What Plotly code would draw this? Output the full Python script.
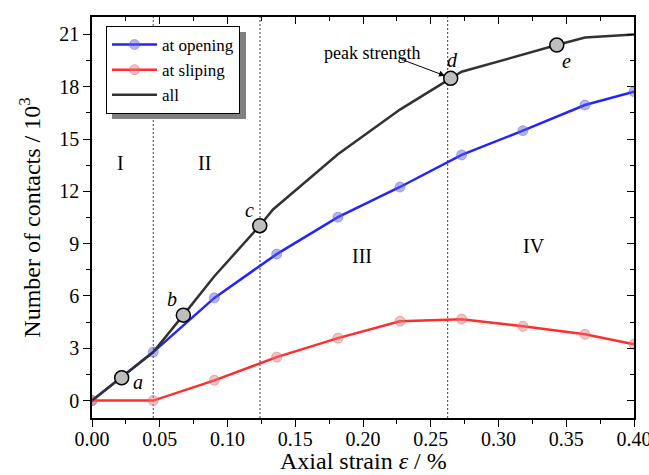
import plotly.graph_objects as go

# ---- data ----
x_grid = [0.0, 0.0452, 0.0903, 0.1363, 0.1815, 0.2273, 0.2728, 0.318, 0.3638, 0.40]
opening = [0.0, 2.78, 5.89, 8.40, 10.52, 12.25, 14.09, 15.48, 16.95, 17.72]
sliping = [0.0, 0.0, 1.16, 2.49, 3.58, 4.55, 4.67, 4.26, 3.80, 3.23]
x_all = [0.0, 0.0452, 0.0674, 0.0903, 0.1238, 0.1336, 0.1815, 0.2273, 0.2647, 0.2728, 0.343, 0.3638, 0.40]
y_all = [0.0, 2.78, 4.90, 7.13, 10.03, 10.96, 14.13, 16.69, 18.48, 18.86, 20.39, 20.82, 21.0]
key_x = [0.0219, 0.0674, 0.1238, 0.2647, 0.343]
key_y = [1.31, 4.90, 10.03, 18.48, 20.39]
key_labels = ["a", "b", "c", "d", "e"]
key_lab_x = [0.034, 0.059, 0.116, 0.266, 0.350]
key_lab_y = [1.05, 5.85, 10.95, 19.55, 19.5]
stage_x = [0.0207, 0.0827, 0.199, 0.326]
stage_y = [13.6, 13.6, 8.27, 8.84]
stage_labels = ["I", "II", "III", "IV"]
boundaries = [0.0452, 0.124, 0.2625]
x_ticks = [0, 0.05, 0.1, 0.15, 0.2, 0.25, 0.3, 0.35, 0.4]
x_ticktext = ["0.00", "0.05", "0.10", "0.15", "0.20", "0.25", "0.30", "0.35", "0.40"]
y_ticks = [0, 3, 6, 9, 12, 15, 18, 21]

FONT = "Liberation Serif"

fig = go.Figure()
fig.add_trace(go.Scatter(
    x=x_grid, y=opening, mode="lines+markers", name="at opening",
    line=dict(color="rgb(35,35,255)", width=2.5),
    marker=dict(size=10, color="rgba(90,90,230,0.45)",
                line=dict(color="rgba(90,90,200,0.45)", width=1))))
fig.add_trace(go.Scatter(
    x=x_grid, y=sliping, mode="lines+markers", name="at sliping",
    line=dict(color="rgb(255,45,45)", width=2.5),
    marker=dict(size=10, color="rgba(230,120,120,0.45)",
                line=dict(color="rgba(200,100,100,0.45)", width=1))))
fig.add_trace(go.Scatter(
    x=x_all, y=y_all, mode="lines", name="all",
    line=dict(color="rgb(50,50,50)", width=2.5)))
fig.add_trace(go.Scatter(
    x=key_x, y=key_y, mode="markers", showlegend=False,
    marker=dict(size=14, color="rgb(190,190,190)", line=dict(color="black", width=1.5))))
# dummy trace for mirrored axes
fig.add_trace(go.Scatter(x=[0], y=[0], xaxis="x2", yaxis="y2", mode="markers",
                         marker=dict(opacity=0), showlegend=False, hoverinfo="skip"))

for b in boundaries:
    fig.add_shape(type="line", xref="x", yref="paper", x0=b, x1=b, y0=0, y1=1,
                  line=dict(color="rgb(60,60,60)", width=1, dash="2px,2px"), layer="below")

annotations = []
for lx, ly, t in zip(key_lab_x, key_lab_y, key_labels):
    annotations.append(dict(x=lx, y=ly, text=f"<i>{t}</i>", showarrow=False,
                            font=dict(family=FONT, size=20, color="black")))
for sx, sy, t in zip(stage_x, stage_y, stage_labels):
    annotations.append(dict(x=sx, y=sy, text=t, showarrow=False,
                            font=dict(family=FONT, size=20, color="black")))
annotations.append(dict(x=0.2066, y=19.95, text="peak strength", showarrow=False,
                        font=dict(family=FONT, size=18, color="black")))
annotations.append(dict(x=0.2605, y=18.63, ax=0.2273, ay=19.6, axref="x", ayref="y",
                        text="", showarrow=True, arrowhead=2, arrowsize=1.2,
                        arrowwidth=1, arrowcolor="black"))
# x-axis title
annotations.append(dict(xref="paper", yref="paper", x=0.5, y=(418 - 461) / 401,
                        xanchor="center", yanchor="middle", showarrow=False,
                        text="Axial strain <i>ε</i> / %",
                        font=dict(family=FONT, size=24, color="black")))

# legend shadow
fig.add_shape(type="rect", xref="paper", yref="paper",
              x0=(112 - 92) / 542, x1=(246 - 92) / 542,
              y0=(418 - 119) / 401, y1=(418 - 32) / 401,
              fillcolor="rgb(128,128,128)", line=dict(width=0), layer="above")

axis_common = dict(showgrid=False, zeroline=False, showline=True, linecolor="black",
                   linewidth=1.5, ticklen=7, tickwidth=1.2, tickcolor="black",
                   automargin=False)

fig.update_layout(
    width=649, height=475,
    margin=dict(l=92, r=15, t=17, b=57),
    paper_bgcolor="white", plot_bgcolor="white",
    font=dict(family=FONT, size=20, color="black"),
    showlegend=True,
    legend=dict(x=(106 - 92) / 542, y=(418 - 26) / 401, xanchor="left", yanchor="top",
                bgcolor="white", bordercolor="black", borderwidth=1,
                font=dict(family=FONT, size=17), itemwidth=45,
                tracegroupgap=0),
    xaxis=dict(range=[0, 0.40], tickvals=x_ticks, ticktext=x_ticktext,
               ticks="outside", tickfont=dict(size=20), ticklabeloverflow="allow",
               ticklabelstandoff=-5,
               minor=dict(dtick=0.025, tick0=0, ticks="outside", ticklen=4, tickcolor="black"),
               **axis_common),
    yaxis=dict(range=[-1, 22], tickvals=y_ticks, ticks="outside",
               tickfont=dict(size=20),
               minor=dict(dtick=1.5, tick0=0, ticks="outside", ticklen=4, tickcolor="black"),
               title=dict(text="Number of contacts / 10<sup>3</sup>", font=dict(size=24), standoff=12),
               **axis_common),
    xaxis2=dict(range=[0, 0.40], overlaying="x", side="top", showticklabels=False,
                tickvals=x_ticks, ticks="inside",
                minor=dict(dtick=0.025, tick0=0, ticks="inside", ticklen=4, tickcolor="black"),
                **axis_common),
    yaxis2=dict(range=[-1, 22], overlaying="y", side="right", showticklabels=False,
                tickvals=y_ticks, ticks="inside",
                minor=dict(dtick=1.5, tick0=0, ticks="inside", ticklen=4, tickcolor="black"),
                **axis_common),
    annotations=annotations,
)

fig.write_html("out.html")
